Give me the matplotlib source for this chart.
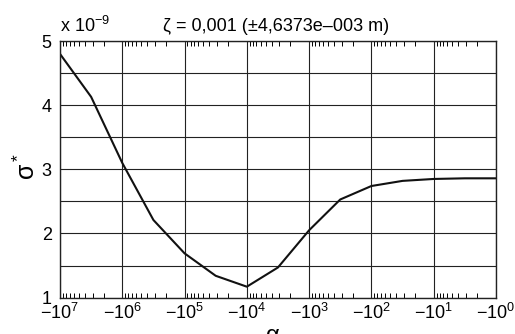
import numpy as np
import matplotlib
matplotlib.use("Agg")
import matplotlib.pyplot as plt
from matplotlib.ticker import FixedLocator, FuncFormatter, LogLocator, NullFormatter

plt.rcParams['font.family'] = ['Liberation Sans', 'DejaVu Sans']
plt.rcParams['mathtext.fontset'] = 'custom'
plt.rcParams['mathtext.rm'] = 'Liberation Sans'
plt.rcParams['mathtext.it'] = 'Liberation Sans:italic'
plt.rcParams['mathtext.sf'] = 'Liberation Sans'

# alpha = -10**exponent, sigma* in units of 1e-9
exponents = [7, 6.5, 6, 5.5, 5, 4.5, 4, 3.5, 3, 2.5, 2, 1.5, 1, 0.5, 0]
sigma = [4.80, 4.13, 3.10, 2.21, 1.69, 1.34, 1.17, 1.47, 2.05, 2.53, 2.74, 2.82, 2.85, 2.86, 2.86]
title = "ζ = 0,001 (±4,6373e–003 m)"

alpha_abs = 10.0 ** np.array(exponents)

fig = plt.figure(figsize=(5.15, 3.34), dpi=100)
ax = fig.add_axes([0.1165, 0.109, 0.8465, 0.768])

ax.plot(alpha_abs, sigma, color='#111111', lw=1.5)

ax.set_xscale('log')
ax.set_xlim(1e7, 1e0)
ax.set_ylim(1, 5)

ax.xaxis.set_major_locator(LogLocator(base=10, numticks=10))
ax.xaxis.set_minor_locator(LogLocator(base=10, subs=np.arange(2, 10), numticks=10))
ax.xaxis.set_minor_formatter(NullFormatter())
ax.xaxis.set_major_formatter(FuncFormatter(lambda v, p: r'$\mathregular{-10^{%d}}$' % round(np.log10(v))))

ax.yaxis.set_major_locator(FixedLocator(np.arange(1, 5.01, 0.5)))
ax.yaxis.set_major_formatter(FuncFormatter(lambda v, p: '%d' % v if abs(v - round(v)) < 1e-6 else ''))

ax.tick_params(which='both', direction='in', top=True, right=True, labelsize=13)
ax.tick_params(axis='x', which='major', length=0, pad=4)
ax.tick_params(axis='x', which='minor', length=3.5, width=0.7)
ax.tick_params(axis='y', which='major', length=0, pad=6)

ax.grid(True, which='major', color='#222222', lw=0.8)
for s in ax.spines.values():
    s.set_linewidth(1.0)
    s.set_color('#222222')

ax.set_ylabel(r'$\mathregular{\sigma^*}$', fontsize=18)
ax.yaxis.set_label_coords(-0.046, 0.51)
ax.set_xlabel(r'$\mathregular{\alpha}$', fontsize=17)
ax.xaxis.set_label_coords(0.488, -0.105)

fig.text(0.117, 0.922, r'x $\mathregular{10^{-9}}$', fontsize=13, va='center', ha='left')
fig.text(0.537, 0.922, title, fontsize=13, va='center', ha='center')

fig.savefig('out.png', dpi=100)
